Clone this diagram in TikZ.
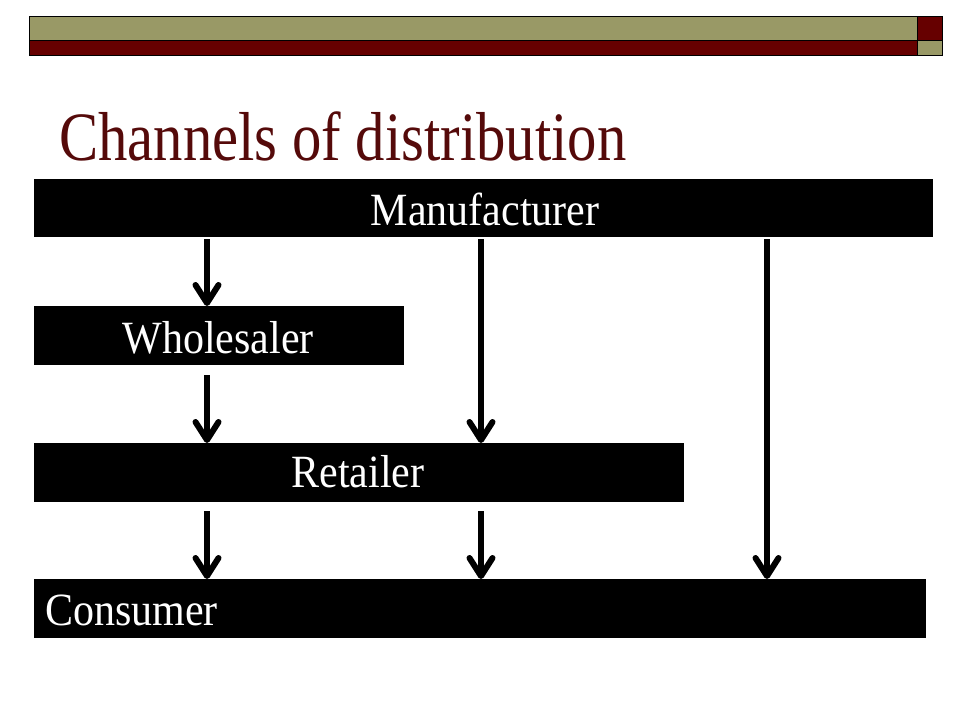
\documentclass[tikz,border=0pt]{standalone}
\usepackage{fontspec}
\usepackage{graphicx}
\setmainfont{Liberation Serif}
\usetikzlibrary{arrows.meta}
\definecolor{olivebar}{RGB}{153,153,102}
\definecolor{redbar}{RGB}{102,0,0}
\definecolor{titlered}{RGB}{85,10,10}
\tikzset{
  barpart/.style={draw=black, line width=1pt},
  blackbox/.style={fill=black, draw=none, inner sep=0pt, anchor=north west},
  lbl/.style={text=white, font=\fontsize{42}{48}\selectfont, inner sep=0pt},
  arr/.style={line width=6pt, -{Straight Barb[length=18pt, width=23pt, round]}},
}
\newcommand{\tallbox}[2]{\scalebox{1}[#1]{#2}}
\begin{document}
\begin{tikzpicture}[x=1pt, y=-1pt]
\useasboundingbox (0,0) rectangle (960,720);
\fill[white] (0,0) rectangle (960,720);
% top band
\fill[olivebar] (29,16) rectangle (917,40);
\fill[redbar] (29,40) rectangle (917,55);
\fill[redbar] (917,16) rectangle (942,40);
\fill[olivebar] (917,40) rectangle (942,55);
\draw[barpart] (29,16) rectangle (917,55);
\draw[barpart] (29,40) -- (917,40);
\draw[barpart] (917,16) rectangle (942,55);
\draw[barpart] (917,40) -- (942,40);
% title
\node[anchor=base west, inner sep=0pt, text=titlered, font=\fontsize{58.7}{70}\selectfont] (title) at (59,160) {\tallbox{1.18}{Channels of distribution}};
% boxes
\node[blackbox, minimum width=899pt, minimum height=58pt] (man) at (34,179) {};
\node[blackbox, minimum width=370pt, minimum height=59pt] (whole) at (34,306) {};
\node[blackbox, minimum width=650pt, minimum height=59pt] (ret) at (34,443) {};
\node[blackbox, minimum width=892pt, minimum height=59pt] (con) at (34,579) {};
% labels
\node[lbl, anchor=base] (manl) at (485,225) {\tallbox{1.1}{Manufacturer}};
\node[lbl, anchor=base] (wholel) at (218,353) {\tallbox{1.1}{Wholesaler}};
\node[lbl, anchor=base] (retl) at (358,487) {\tallbox{1.1}{Retailer}};
\node[lbl, anchor=base west] (conl) at (45,625) {\tallbox{1.1}{Consumer}};
% arrow columns
\coordinate (c1) at (207,0);
\coordinate (c2) at (481,0);
\coordinate (c3) at (767,0);
% arrows
\draw[arr] ([yshift=-2pt]man.south -| c1) -- (whole.north -| c1);
\draw[arr] ([yshift=-10pt]whole.south -| c1) -- (ret.north -| c1);
\draw[arr] ([yshift=-9pt]ret.south -| c1) -- (con.north -| c1);
\draw[arr] ([yshift=-2pt]man.south -| c2) -- (ret.north -| c2);
\draw[arr] ([yshift=-9pt]ret.south -| c2) -- (con.north -| c2);
\draw[arr] ([yshift=-2pt]man.south -| c3) -- (con.north -| c3);
\end{tikzpicture}
\end{document}
